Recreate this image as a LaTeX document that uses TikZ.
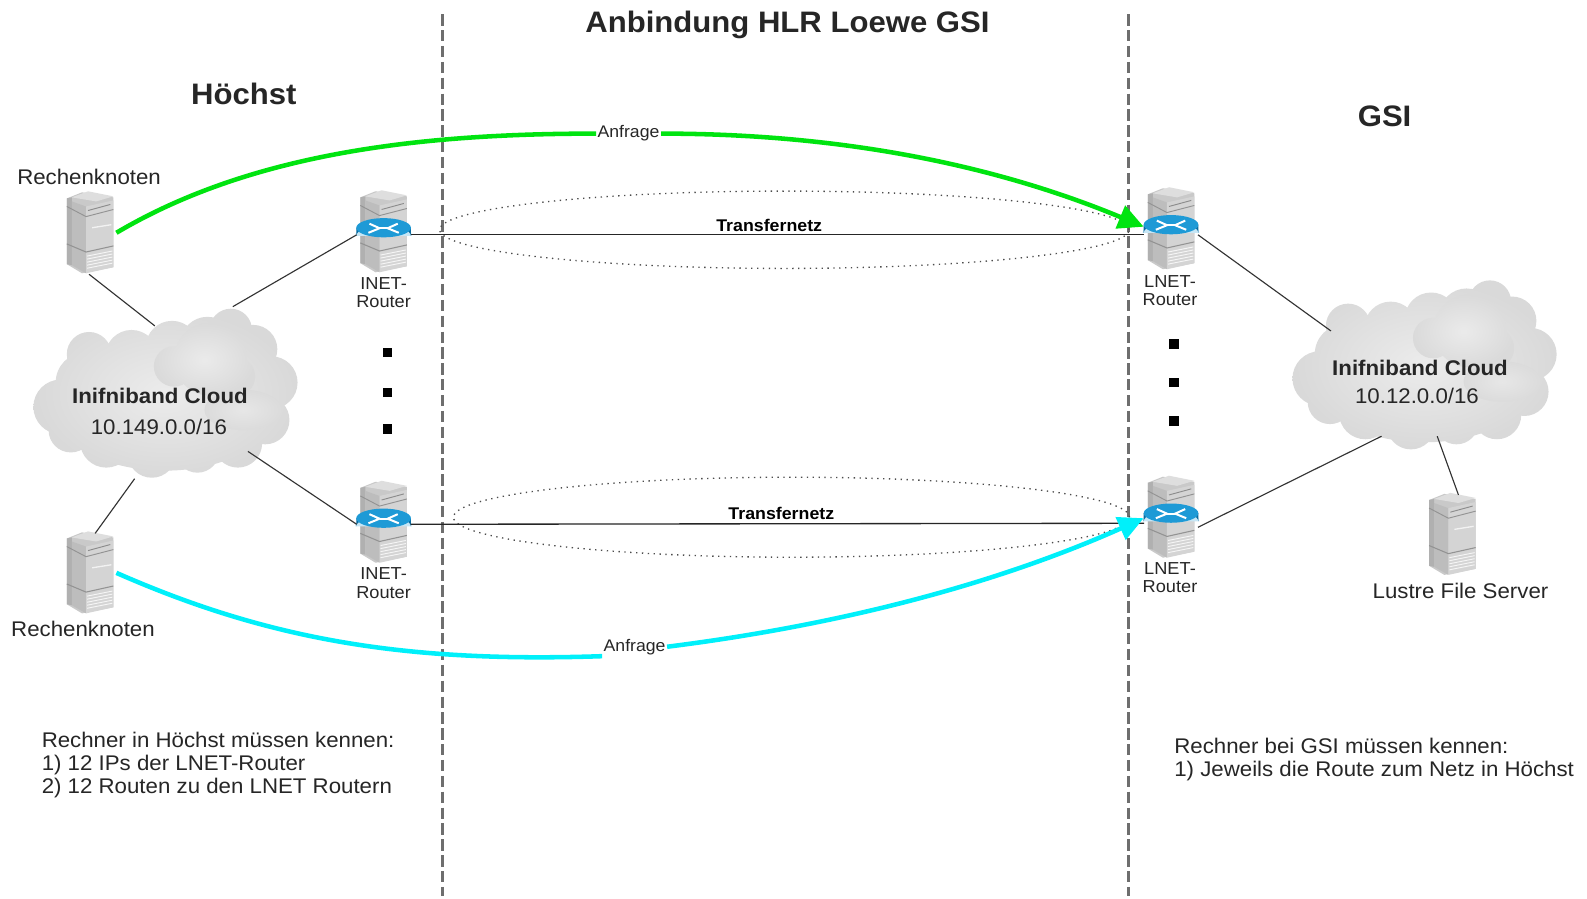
\documentclass[tikz,border=0pt]{standalone}
\usepackage{fontspec}
\setmainfont[FakeStretch=1.05]{Liberation Sans}
\usetikzlibrary{arrows.meta,shapes.geometric}
\newcommand{\fsz}[2]{\fontsize{#1}{#2}\selectfont}
\definecolor{txt}{HTML}{262626}
\definecolor{vdash}{HTML}{6E6E6E}
\definecolor{rtop}{HTML}{1E9AD6}
\definecolor{rband}{HTML}{0A6A9E}
\tikzset{
  lbl/.style={text=txt,inner sep=0pt,font=\fsz{15.9pt}{17pt}},
  small/.style={text=txt,inner sep=0pt,align=center,font=\fsz{13pt}{13.7pt}},
  head/.style={text=txt,inner sep=0pt,font=\bfseries\fsz{22.2pt}{24pt}},
  cloudbold/.style={text=txt,inner sep=0pt,font=\bfseries\fsz{15.9pt}{17pt}},
  tnet/.style={text=black,inner sep=0pt,font=\bfseries\fsz{12.7pt}{14pt}},
  anf/.style={text=txt,inner sep=1pt,font=\fsz{12.6pt}{14pt}},
  dotsq/.style={fill=black,minimum size=7pt,inner sep=0pt},
  link/.style={draw=black!80,line width=0.85pt},
  tlink/.style={draw=black!85,line width=1pt},
  border/.style={draw=vdash,line width=1.9pt,dash pattern=on 8.5pt off 3.4pt},
  oval/.style={draw=black!70,line width=1pt,dash pattern=on 1pt off 3.4pt},
  hub/.style={inner sep=0pt,minimum width=46pt,minimum height=60pt},
  rhub/.style={inner sep=0pt,minimum width=40pt,minimum height=19pt},
  flowg/.style={draw={rgb,255:red,0;green,228;blue,16},line width=3.4pt},
  flowc/.style={draw={rgb,255:red,0;green,240;blue,250},line width=3.4pt},
  bigtip/.style={-{Triangle[length=19pt,width=18pt]}},
}
% server tower, centred on #1 #2
\newcommand{\towerdraw}[2]{%
 \begin{scope}[shift={(#1,#2)}]
  \fill[gray!42] (-23,-33) -- (-8,-39) -- (23,-34) -- (23,35) -- (-8,41) -- (-23,32) -- cycle;
  \fill[gray!62] (-23,-33) -- (-18,-34) -- (-18,33) -- (-23,32) -- cycle;
  \fill[gray!26] (-18,-34) -- (-2,-40) -- (23,-35) -- (6,-30) -- cycle;
  \fill[gray!52] (-18,-30) -- (-18,33) -- (-4,41) -- (-4,-25) -- cycle;
  \fill[gray!34] (-4,-25) -- (23,-31) -- (23,35) -- (-4,41) -- cycle;
  \draw[gray!85,line width=0.7pt] (-23,-25) -- (-4,-15) -- (23,-22);
  \draw[gray!90,line width=0.7pt] (-2,-21) -- (20,-27);
  \draw[gray!85,line width=0.8pt] (-23,12) -- (-4,20) -- (23,14);
  \draw[gray!10,line width=1pt] (2,-4) -- (21,-7);
  \foreach \yy in {24,27,30,33,36}
    \draw[gray!8,line width=0.7pt] (-3,\yy) -- (22,\yy-5);
 \end{scope}}
% router disc on a server
\newcommand{\routerdraw}[2]{%
 \begin{scope}[shift={(#1,#2)}]
  \fill[white!75!rtop] (-28,4) arc[start angle=180,end angle=360,x radius=28,y radius=12] -- cycle;
  \fill[rband] (-27,-4) -- (-27,4) arc[start angle=180,end angle=360,x radius=27,y radius=10] -- (27,-4) -- cycle;
  \fill[rtop] (0,-4) ellipse[x radius=27,y radius=9.5];
  \draw[white,line width=1.5pt] (-14,-8) -- (-4,-3.5) -- (-15,1);
  \draw[white,line width=1.5pt] (14,-8) -- (4,-3.5) -- (15,1);
  \draw[white,line width=1.5pt] (-4,-3.5) -- (4,-3.5);
 \end{scope}}
% cloud, shift relative to the left one
\newcommand{\clouddraw}[2]{%
 \begin{scope}[shift={(#1,#2)}]
  \shade[inner color=gray!15,outer color=gray!30]
    (163,405) ellipse[x radius=108,y radius=60]
    (60,402) circle[radius=27] (85,378) circle[radius=30] (88,350) circle[radius=22]
    (130,352) circle[radius=26] (170,343) circle[radius=26] (205,340) circle[radius=27]
    (228,326) circle[radius=21] (250,345) circle[radius=24] (268,378) circle[radius=26]
    (262,415) circle[radius=24] (235,438) circle[radius=24] (195,445) circle[radius=22]
    (150,448) circle[radius=24] (105,436) circle[radius=26] (70,425) circle[radius=22];
  \shade[inner color=gray!16,outer color=gray!29]
    (208,355) circle[radius=36] (172,362) circle[radius=20] (232,372) circle[radius=20];
  \shade[inner color=gray!19,outer color=gray!28] (240,405) ellipse[x radius=38,y radius=20];
 \end{scope}}
\begin{document}
\begin{tikzpicture}[x=0.759pt,y=-0.759pt]
\useasboundingbox[fill=white] (0,0) rectangle (1568,887.3);

% clouds
\clouddraw{0}{0}
\clouddraw{1244}{-28}
% servers
\towerdraw{89}{229}
\towerdraw{89}{565}
\towerdraw{379}{228}
\towerdraw{379}{515}
\towerdraw{1157}{225}
\towerdraw{1157}{510}
\towerdraw{1435}{527}
\routerdraw{379}{229}
\routerdraw{379}{516}

% invisible hubs for connectors
\node[hub] (s1) at (89,229) {};
\node[hub] (s2) at (89,565) {};
\node[hub] (s3) at (1435,527) {};
\node[rhub] (r1) at (379,232) {};
\node[rhub] (r2) at (379,518) {};
\node[rhub] (l1) at (1157,232) {};
\node[rhub] (l2) at (1157,517) {};
% cloud contact points
\coordinate (cla) at (153,322);
\coordinate (clb) at (230,303);
\coordinate (clc) at (133,473);
\coordinate (cld) at (245,446);
\coordinate (cra) at (1315,327);
\coordinate (crb) at (1365,431);
\coordinate (crc) at (1420,431);

% borders
\coordinate (b1t) at (437,14); \coordinate (b1b) at (437,885);
\coordinate (b2t) at (1115,14); \coordinate (b2b) at (1115,885);
\draw[border] (b1t) -- (b1b);
\draw[border] (b2t) -- (b2b);

% transfer ovals
\node[oval,ellipse,minimum width=517pt,minimum height=58pt,inner sep=0pt] (o1) at (775,227) {};
\node[oval,ellipse,minimum width=507pt,minimum height=60pt,inner sep=0pt] (o2) at (782,511) {};

% links
\draw[link] (88,271) -- (cla);
\draw[link] (clb) -- (r1.west);
\draw[link] (clc) -- (94,527);
\draw[link] (cld) -- (r2.west);
\draw[tlink] (r1.east) -- (l1.west);
\draw[tlink] (r2.east) -- (l2.west);
\draw[link] (l1.east) -- (cra);
\draw[link] ([yshift=-3pt]l2.east) -- (crb);
\draw[link] (crc) -- (1441,489);

% labels
\node[tnet] at (760,223) {Transfernetz};
\node[tnet] at (772,507) {Transfernetz};

\node[anf] (a1) at (621,132) {Anfrage};
\node[anf] (a2) at (627,639) {Anfrage};
\coordinate (g0) at (115,230);
\coordinate (c0) at (115,566);
\coordinate (g1) at (1130,224);
\coordinate (c1) at (1130,512);
\draw[flowg] (g0) .. controls (250,150) and (420,132) .. (a1.west);
\draw[flowg,bigtip] (a1.east) .. controls (850,132) and (1000,170) .. (g1);
\draw[flowc] (c0) .. controls (265,632) and (400,655) .. (a2.south west);
\draw[flowc,bigtip] (a2.east) .. controls (850,615) and (1000,570) .. (c1);

% routers over the tips
\routerdraw{1157}{226}
\routerdraw{1157}{511}

\node[head] at (778,25) {Anbindung HLR Loewe GSI};
\node[head] at (241,93) {Höchst};
\node[head] at (1368,115) {GSI};
\node[lbl] at (88,175) {Rechenknoten};
\node[lbl] at (82,621) {Rechenknoten};
\node[small] at (379,289) {INET-\\Router};
\node[small] at (379,576) {INET-\\Router};
\node[small] at (1156,287) {LNET-\\Router};
\node[small] at (1156,571) {LNET-\\Router};
\node[cloudbold] at (158,391) {Inifniband Cloud};
\node[lbl] at (157,422) {10.149.0.0/16};
\node[cloudbold] at (1403,364) {Inifniband Cloud};
\node[lbl] at (1400,391) {10.12.0.0/16};
\node[lbl] at (1443,584) {Lustre File Server};

\node[dotsq] at (383,348) {};
\node[dotsq] at (383,388) {};
\node[dotsq] at (383,424) {};
\node[dotsq] at (1160,340) {};
\node[dotsq] at (1160,378) {};
\node[dotsq] at (1160,416) {};

\node[lbl,anchor=west] at (41,731) {Rechner in Höchst müssen kennen:};
\node[lbl,anchor=west] at (41,756) {1) 12 IPs der LNET-Router};
\node[lbl,anchor=west] at (41,779) {2) 12 Routen zu den LNET Routern};
\node[lbl,anchor=west] at (1160,737) {Rechner bei GSI müssen kennen:};
\node[lbl,anchor=west] at (1160,762) {1) Jeweils die Route zum Netz in Höchst};
\end{tikzpicture}
\end{document}
